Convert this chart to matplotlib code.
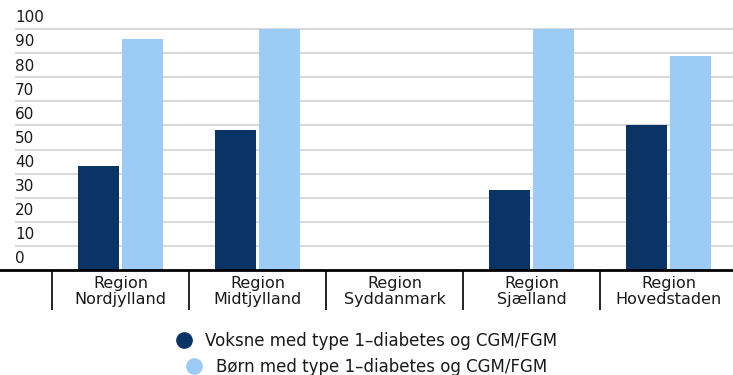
import matplotlib
matplotlib.use("Agg")
import matplotlib.pyplot as plt
import numpy as np
from matplotlib.lines import Line2D

regions = ["Region\nNordjylland", "Region\nMidtjylland", "Region\nSyddanmark",
           "Region\nSjælland", "Region\nHovedstaden"]
voksne = [43, 58, np.nan, 33, 60]
boern = [96, 100, np.nan, 100, 89]
y_ticks = [0, 10, 20, 30, 40, 50, 60, 70, 80, 90, 100]
series_labels = ["Voksne med type 1–diabetes og CGM/FGM",
                 "Børn med type 1–diabetes og CGM/FGM"]

DARK = "#0b3466"
LIGHT = "#9ccbf6"
GRID = "#d9d9d9"
TXT = "#1a1a1a"

plt.rcParams["font.family"] = ["DejaVu Sans"]

W, H = 733, 375
fig = plt.figure(figsize=(W / 100, H / 100), dpi=100)
# axes from x=15px to the right edge, y=20px..270px from top
ax = fig.add_axes([15 / W, (H - 270) / H, (W - 15) / W, 250 / H])

cat_px = 137.0
x = np.arange(len(regions))
ax.set_xlim(-(120.5 - 15) / cat_px, (W - 120.5) / cat_px)
ax.set_ylim(0, 250 / 2.41)

bw = 41 / cat_px
off = 21.8 / cat_px
ax.bar(x - off, voksne, width=bw, color=DARK, zorder=3)
ax.bar(x + off, boern, width=bw, color=LIGHT, zorder=3)

# gridlines with labels sitting on top of them
for v in y_ticks[1:]:
    ax.axhline(v, color=GRID, lw=1.5, zorder=1)
ax.axhline(0, xmin=-15 / (W - 15), xmax=1, color="black", lw=2, zorder=4, clip_on=False)
for v in y_ticks:
    ax.text(0, v + 1.5, str(v), transform=ax.get_yaxis_transform(),
            ha="left", va="bottom", fontsize=11, color=TXT)

# category separators below the baseline
below = -40 / 2.41
for b in np.arange(len(regions) + 1) - 0.5:
    ax.vlines(b, below, 0, color="black", lw=1.2, clip_on=False, zorder=4)
for xi, name in zip(x, regions):
    ax.text(xi, -8.8, name, ha="center", va="center", fontsize=11.5,
            linespacing=1.05, color=TXT, clip_on=False)

ax.set_xticks([])
ax.set_yticks([])
for s in ax.spines.values():
    s.set_visible(False)

# two centred legend rows
for lab, col, yy in [(series_labels[0], DARK, (H - 341) / H),
                     (series_labels[1], LIGHT, (H - 367) / H)]:
    h = Line2D([], [], marker="o", ls="", markersize=11, color=col)
    fig.legend([h], [lab], loc="center", bbox_to_anchor=(0.5, yy),
               frameon=False, fontsize=12, handletextpad=0.8,
               borderpad=0, handlelength=1.0, labelcolor=TXT)

fig.savefig("out.png", dpi=100)
